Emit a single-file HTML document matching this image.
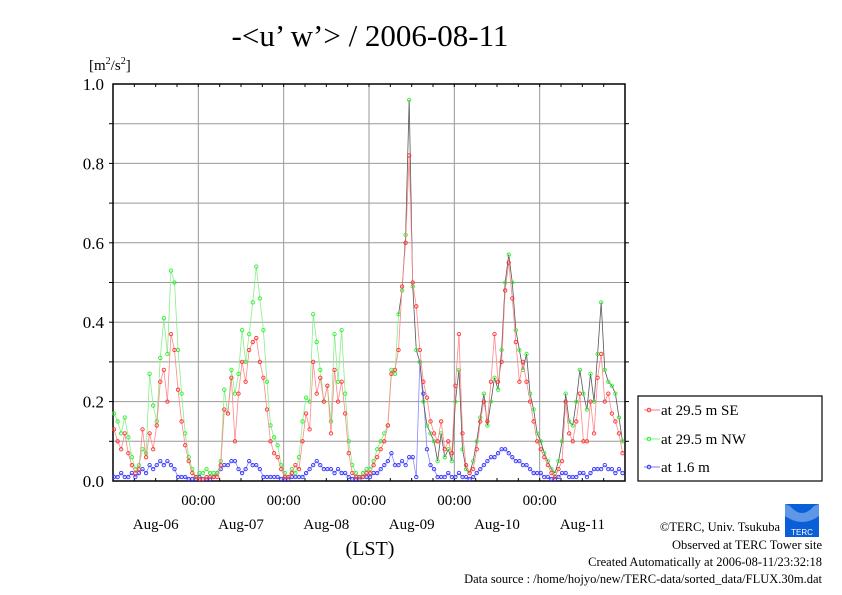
<!DOCTYPE html>
<html><head><meta charset="utf-8"><style>
html,body{margin:0;padding:0;background:#fff}
svg{display:block;font-family:"Liberation Serif",serif}
</style></head><body>
<svg id="chart" width="842" height="595" viewBox="0 0 842 595" xmlns="http://www.w3.org/2000/svg">
<rect width="842" height="595" fill="#fff"/>
<text x="370" y="46" font-size="31" text-anchor="middle">-&lt;u’ w’&gt; / 2006-08-11</text>
<text x="89" y="70" font-size="15">[m<tspan font-size="10" dy="-6">2</tspan><tspan dy="6">/s</tspan><tspan font-size="10" dy="-6">2</tspan><tspan dy="6">]</tspan></text>
<g id="grid"></g>
<g id="axes"></g>
<g id="series"></g>
<text x="370" y="555" font-size="20" text-anchor="middle">(LST)</text>
<g>
<rect x="638" y="396" width="184" height="85" fill="#fff" stroke="#000" stroke-width="1.2"/>
<g><line x1="644" y1="410" x2="660" y2="410" stroke="#f77" /><circle cx="649" cy="410" r="1.8" fill="none" stroke="#f33"/><text x="661" y="415" font-size="15">at 29.5 m SE</text></g>
<g><line x1="644" y1="439" x2="660" y2="439" stroke="#7f7"/><circle cx="649" cy="439" r="1.8" fill="none" stroke="#3e3"/><text x="661" y="444" font-size="15">at 29.5 m NW</text></g>
<g><line x1="644" y1="467" x2="660" y2="467" stroke="#77f"/><circle cx="649" cy="467" r="1.8" fill="none" stroke="#33f"/><text x="661" y="472" font-size="15">at 1.6 m</text></g>
</g>
<g>
<rect x="785" y="504" width="34" height="33" fill="#0a5fd8"/>
<path d="M790 506 Q802 520 814 506 L819 504 L819 516 Q802 528 785 516 L785 504Z" fill="#fff" opacity="0.35"/>
<text x="802" y="535" font-size="8" fill="#fff" text-anchor="middle" font-family="Liberation Sans,sans-serif">TERC</text>
</g>
<g font-size="12.5" text-anchor="end">
<text x="780" y="531">©TERC, Univ. Tsukuba</text>
<text x="822" y="549">Observed at TERC Tower site</text>
<text x="822" y="566">Created Automatically at 2006-08-11/23:32:18</text>
<text x="822" y="583">Data source : /home/hojyo/new/TERC-data/sorted_data/FLUX.30m.dat</text>
</g>
</svg>
<script>
const yTicks=[0,0.2,0.4,0.6,0.8,1.0];
const dayLabels=["Aug-06","Aug-07","Aug-08","Aug-09","Aug-10","Aug-11"];
const seriesSE=[.13,.10,.08,.12,.07,.04,.02,.03,.13,.06,.12,.08,.14,.25,.28,.20,.37,.33,.23,.15,.09,.05,.02,.01,
.005,.005,.01,.01,.01,.01,.04,.18,.17,.26,.10,.22,.30,.25,.33,.35,.36,.30,.26,.18,.10,.07,.06,.03,
.01,.01,.02,.04,.03,.10,.17,.13,.30,.22,.26,.20,.24,.12,.28,.20,.25,.17,.07,.02,.01,.01,.01,.02,
.02,.04,.06,.08,.10,.14,.27,.28,.33,.49,.60,.82,.50,.44,.33,.25,.21,.15,.12,.10,.15,.08,.10,.07,
.24,.37,.12,.04,.02,.03,.08,.15,.20,.15,.25,.37,.25,.30,.48,.55,.46,.35,.25,.30,.25,.20,.15,.10,
.08,.06,.04,.02,.01,.03,.05,.20,.12,.10,.15,.22,.10,.10,.20,.12,.26,.32,.20,.22,.17,.15,.12,.07];
const seriesNW=[.17,.15,.12,.16,.11,.06,.03,.04,.08,.07,.27,.19,.15,.31,.41,.32,.53,.50,.33,.22,.12,.06,.03,.01,
.02,.02,.03,.02,.02,.02,.05,.23,.17,.28,.22,.27,.38,.30,.37,.45,.54,.46,.38,.25,.14,.11,.09,.04,
.02,.01,.03,.02,.06,.15,.21,.20,.42,.35,.28,.20,.24,.15,.37,.25,.38,.22,.10,.04,.02,.01,.02,.03,
.03,.05,.08,.10,.12,.14,.28,.27,.42,.48,.62,.96,.49,.33,.30,.20,.14,.12,.10,.05,.12,.06,.08,.05,
.20,.28,.08,.03,.02,.05,.10,.16,.22,.14,.20,.26,.23,.33,.50,.57,.50,.38,.33,.28,.32,.22,.18,.12,
.10,.07,.05,.03,.02,.05,.10,.22,.15,.14,.20,.28,.22,.18,.27,.20,.32,.45,.28,.25,.24,.22,.16,.10];
const seriesLow=[.01,.01,.02,.01,.01,.02,.01,.02,.03,.02,.04,.03,.04,.05,.04,.05,.04,.03,.01,.01,.01,.005,.005,.005,
.01,.005,.005,.005,.01,.02,.03,.04,.04,.05,.05,.03,.02,.03,.05,.04,.04,.03,.01,.01,.01,.01,.01,.005,
.005,.005,.01,.01,.01,.01,.02,.03,.04,.05,.04,.03,.03,.03,.02,.03,.02,.02,.01,.005,.005,.005,.01,.01,
.01,.02,.02,.03,.04,.05,.07,.04,.04,.05,.04,.06,.06,.01,.30,.22,.08,.04,.03,.01,.01,.01,.02,.01,
.01,.02,.01,.01,.005,.01,.02,.03,.04,.05,.06,.06,.07,.08,.08,.07,.06,.05,.05,.04,.04,.03,.02,.02,
.02,.01,.01,.005,.005,.01,.02,.02,.01,.01,.01,.02,.02,.01,.02,.03,.03,.03,.04,.03,.03,.02,.03,.02];
const L=113,R=625,T=84,B=481,HOURS=144;
const xs=h=>L+(h+0.3)*(R-L)/HOURS;
const ys=v=>B-v*(B-T);
const NS="http://www.w3.org/2000/svg";
function mk(tag,attrs,parent){const e=document.createElementNS(NS,tag);for(const k in attrs)e.setAttribute(k,attrs[k]);parent.appendChild(e);return e;}
const grid=document.getElementById('grid'),axes=document.getElementById('axes'),ser=document.getElementById('series');
for(let i=1;i<10;i++){const y=ys(i/10);const g=mk('line',{x1:L,x2:R,y1:y,y2:y,stroke:'#999','stroke-width':1},grid);

}
for(let d=1;d<6;d++){const x=L+d*(R-L)/6;const g=mk('line',{x1:x,x2:x,y1:T,y2:B,stroke:'#999','stroke-width':1},grid);


const t=mk('text',{x:x,y:505,'font-size':15,'text-anchor':'middle'},axes);t.textContent='00:00';

}
dayLabels.forEach((lab,i)=>{const x=L+(i+0.5)*(R-L)/6;const t=mk('text',{x:x,y:529,'font-size':15,'text-anchor':'middle'},axes);t.textContent=lab;

});
for(let h=6;h<HOURS;h+=6){const x=L+h*(R-L)/HOURS;mk('line',{x1:x,x2:x,y1:T,y2:T+3,stroke:'#000'},axes);mk('line',{x1:x,x2:x,y1:B,y2:B-3,stroke:'#000'},axes);}
for(let i=1;i<10;i++){const y=ys(i/10);mk('line',{x1:L-4,x2:L,y1:y,y2:y,stroke:'#000'},axes);mk('line',{x1:R,x2:R+4,y1:y,y2:y,stroke:'#000'},axes);}
yTicks.forEach(v=>{const t=mk('text',{x:104,y:ys(v)+6,'font-size':17,'text-anchor':'end'},axes);t.textContent=v.toFixed(1);

});
const frame=mk('rect',{x:L,y:T,width:R-L,height:B-T,fill:'none',stroke:'#000','stroke-width':1.5},axes);


function draw(vals,lineCol,dotCol,name,altCol){
  const g=mk('g',{},ser);
  
  
  for(let i=1;i<vals.length;i++){
    const col=(altCol&&i>80)?altCol:lineCol;
    mk('line',{x1:xs(i-1),y1:ys(vals[i-1]),x2:xs(i),y2:ys(vals[i]),stroke:col,'stroke-width':0.8},g);
  }
  vals.forEach((v,i)=>{const c=mk('circle',{cx:xs(i),cy:ys(v),r:1.7,fill:'none',stroke:dotCol,'stroke-width':0.9},g);
  
  });
}
draw(seriesLow,'#88f','#33f','series-1-6m');
draw(seriesNW,'#8e8','#3e3','series-29-5m-nw','#555');
draw(seriesSE,'#f88','#f33','series-29-5m-se');
</script>
</body></html>
